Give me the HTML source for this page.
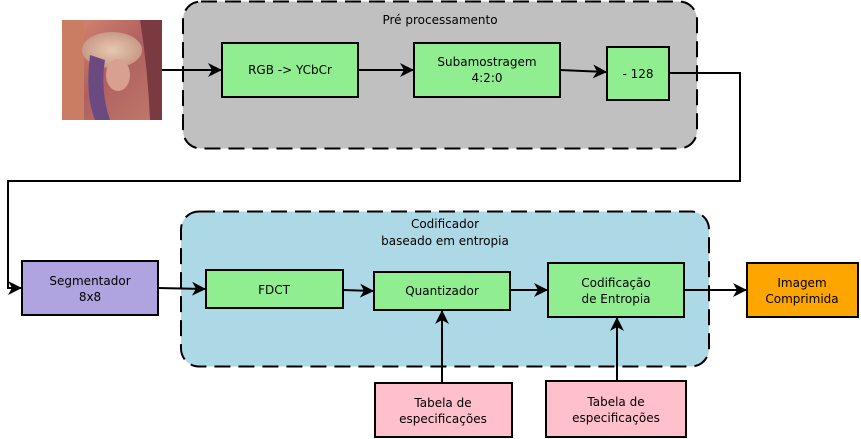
<!DOCTYPE html>
<html><head><meta charset="utf-8"><style>
html,body{margin:0;padding:0;background:#fff;}
svg{display:block;}
text{font-family:"DejaVu Sans","Liberation Sans",sans-serif;font-size:12px;fill:#000;text-anchor:middle;}
</style></head><body>
<svg width="861" height="439" viewBox="0 0 861 439" xmlns="http://www.w3.org/2000/svg">
<defs>
<marker id="a" markerWidth="16" markerHeight="16" refX="13" refY="7" orient="auto" markerUnits="userSpaceOnUse">
<path d="M0,0 L14,7 L0,14 L4,7 Z" fill="#000"/></marker>
<linearGradient id="lg" x1="0" y1="0" x2="1" y2="1">
<stop offset="0" stop-color="#d88a70"/><stop offset="0.5" stop-color="#b06060"/><stop offset="1" stop-color="#c07a6a"/></linearGradient>
<radialGradient id="hat" cx="0.5" cy="0.5" r="0.5"><stop offset="0" stop-color="#e8c8b0"/><stop offset="1" stop-color="#c89a88"/></radialGradient>
</defs>
<rect x="62" y="20" width="100" height="100" fill="url(#lg)"/>
<rect x="62" y="20" width="22" height="100" fill="#c97d62"/>
<path d="M140,20 L162,20 L162,120 L150,120 Q148,70 140,20Z" fill="#7a3a40"/>
<ellipse cx="112" cy="50" rx="30" ry="18" fill="url(#hat)"/>
<path d="M90,55 Q85,95 95,120 L110,120 Q100,90 105,60Z" fill="#6a4a80"/>
<ellipse cx="118" cy="75" rx="12" ry="16" fill="#d8a090"/>
<rect x="183" y="1.5" width="514" height="147" rx="18" fill="#c0c0c0" stroke="#000" stroke-width="2" stroke-dasharray="16,8"/>
<text x="440" y="24">Pré processamento</text>
<rect x="181" y="211.5" width="528" height="155" rx="18" fill="#add8e6" stroke="#000" stroke-width="2" stroke-dasharray="16,8"/>
<text x="445" y="228">Codificador</text>
<text x="445" y="245">baseado em entropia</text>
<g stroke="#000" stroke-width="2" fill="none">
<line x1="162" y1="70" x2="221" y2="70" marker-end="url(#a)"/>
<line x1="358" y1="70" x2="413" y2="70" marker-end="url(#a)"/>
<line x1="560" y1="70" x2="606" y2="72" marker-end="url(#a)"/>
<polyline points="669,73 740,73 740,181 8,181 8,288 21,288" marker-end="url(#a)"/>
<line x1="158" y1="288" x2="205" y2="289" marker-end="url(#a)"/>
<line x1="343" y1="290" x2="373" y2="291" marker-end="url(#a)"/>
<line x1="510" y1="290" x2="547" y2="290" marker-end="url(#a)"/>
<line x1="684" y1="290" x2="746" y2="290" marker-end="url(#a)"/>
<line x1="442" y1="383" x2="442" y2="311" marker-end="url(#a)"/>
<line x1="617" y1="381" x2="617" y2="318" marker-end="url(#a)"/>
</g>
<g stroke="#000" stroke-width="2">
<rect x="222" y="43" width="136" height="54" fill="#90ee90"/>
<rect x="414" y="43" width="146" height="54" fill="#90ee90"/>
<rect x="607" y="47" width="62" height="53" fill="#90ee90"/>
<rect x="22" y="261" width="136" height="54" fill="#b0a4e0"/>
<rect x="206" y="270" width="137" height="38" fill="#90ee90"/>
<rect x="374" y="272" width="136" height="38" fill="#90ee90"/>
<rect x="548" y="263" width="136" height="54" fill="#90ee90"/>
<rect x="747" y="263" width="111" height="54" fill="#ffa500"/>
<rect x="375" y="383" width="137" height="54" fill="#ffc0cb"/>
<rect x="546" y="381" width="140" height="56" fill="#ffc0cb"/>
</g>
<text x="290" y="74">RGB -&gt; YCbCr</text>
<text x="487" y="66">Subamostragem</text>
<text x="487" y="82">4:2:0</text>
<text x="638" y="78">- 128</text>
<text x="90" y="285">Segmentador</text>
<text x="90" y="301">8x8</text>
<text x="274" y="294">FDCT</text>
<text x="442" y="295">Quantizador</text>
<text x="616" y="287">Codificação</text>
<text x="616" y="303">de Entropia</text>
<text x="802" y="287">Imagem</text>
<text x="802" y="303">Comprimida</text>
<text x="443" y="407">Tabela de</text>
<text x="443" y="423">especificações</text>
<text x="616" y="406">Tabela de</text>
<text x="616" y="422">especificações</text>
</svg>
</body></html>
